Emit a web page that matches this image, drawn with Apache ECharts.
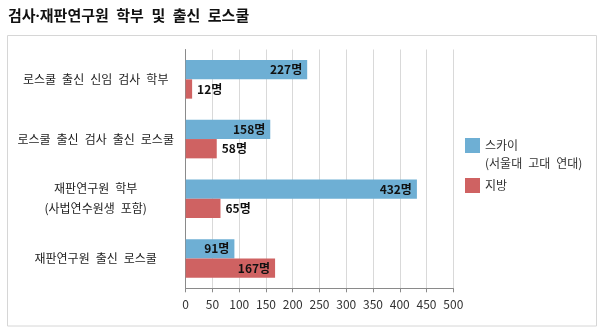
<!DOCTYPE html>
<html>
<head>
<meta charset="utf-8">
<script src="https://cdn.jsdelivr.net/npm/echarts@6/dist/echarts.min.js"></script>
<style>
html,body{margin:0;padding:0;background:#fff;}
#c{width:600px;height:332px;}
</style>
</head>
<body>
<div id="c"></div>
<script>
var titleText = '검사·재판연구원 학부 및 출신 로스쿨';
var categories = ['로스쿨 출신 신임 검사 학부', '로스쿨 출신 검사 출신 로스쿨', '재판연구원 학부\n(사법연수원생 포함)', '재판연구원 출신 로스쿨'];
var seriesNames = ['스카이', '지방'];
var legendLabels = ['스카이\n(서울대 고대 연대)', '지방'];
var skyValues = [227, 158, 432, 91];
var localValues = [12, 58, 65, 167];
var xTicks = {min: 0, max: 500, interval: 50};
var unit = '명';

var FONT = '"Noto Sans CJK KR", "Noto Sans", sans-serif';
var TITLE_FONT = '"Noto Sans", "Noto Sans CJK KR", sans-serif';
function wide(s) { return s.replace(/ /g, '\u2002'); }

var chart = echarts.init(document.getElementById('c'), null, {renderer: 'canvas'});

function localData() {
  return localValues.map(function (v) {
    var inside = v > 150;
    return {value: v, label: {position: inside ? 'insideRight' : 'right'}};
  });
}

chart.setOption({
  animation: false,
  backgroundColor: '#fff',
  title: {
    text: wide(titleText), left: 8, top: 9, padding: 0,
    textStyle: {fontFamily: TITLE_FONT, fontSize: 15, fontWeight: 'bold', color: '#111'}
  },
  graphic: [{
    type: 'rect', silent: true, z: -10,
    shape: {x: 7.5, y: 35.5, width: 589, height: 290.5},
    style: {fill: 'none', stroke: '#d6d6d6', lineWidth: 1}
  }],
  legend: {
    orient: 'vertical', left: 465, top: 119.25, padding: 0, itemGap: 5,
    itemWidth: 15, itemHeight: 15, icon: 'rect',
    data: seriesNames,
    formatter: function (name) {
      var i = seriesNames.indexOf(name);
      var t = wide(legendLabels[i]);
      return t.indexOf('\n') >= 0 ? ' \n' + t : t;
    },
    textStyle: {fontFamily: FONT, fontSize: 12, color: '#333', lineHeight: 17.5}
  },
  grid: {left: 185.7, right: 146.7, top: 49.5, bottom: 43.7, containLabel: false},
  xAxis: {
    type: 'value', min: xTicks.min, max: xTicks.max, interval: xTicks.interval,
    axisLine: {show: true, lineStyle: {color: '#8a8a8a', width: 1}},
    axisTick: {show: true, length: 4, lineStyle: {color: '#8a8a8a'}},
    splitLine: {show: true, lineStyle: {color: '#d9d9d9', width: 1}},
    axisLabel: {fontFamily: FONT, fontSize: 12, color: '#333', margin: 10}
  },
  yAxis: {
    type: 'category', inverse: true, data: categories,
    axisLine: {show: true, lineStyle: {color: '#8a8a8a', width: 1}},
    axisTick: {show: false},
    axisLabel: {fontFamily: FONT, fontSize: 12, color: '#222', align: 'center', margin: 90, lineHeight: 20,
      formatter: function (v) { return wide(v); }}
  },
  series: [{
    name: seriesNames[0], type: 'bar', data: skyValues,
    barWidth: 19.3, barGap: '0%',
    itemStyle: {color: '#6eafd4'},
    label: {show: true, position: 'insideRight', distance: 5, formatter: '{c}' + unit,
      fontFamily: FONT, fontSize: 12, fontWeight: 'bold', color: '#111'}
  }, {
    name: seriesNames[1], type: 'bar', data: localData(),
    barWidth: 19.3, barGap: '0%',
    itemStyle: {color: '#cf6262'},
    label: {show: true, position: 'right', distance: 5, formatter: '{c}' + unit,
      fontFamily: FONT, fontSize: 12, fontWeight: 'bold', color: '#111'}
  }]
});
</script>
</body>
</html>
